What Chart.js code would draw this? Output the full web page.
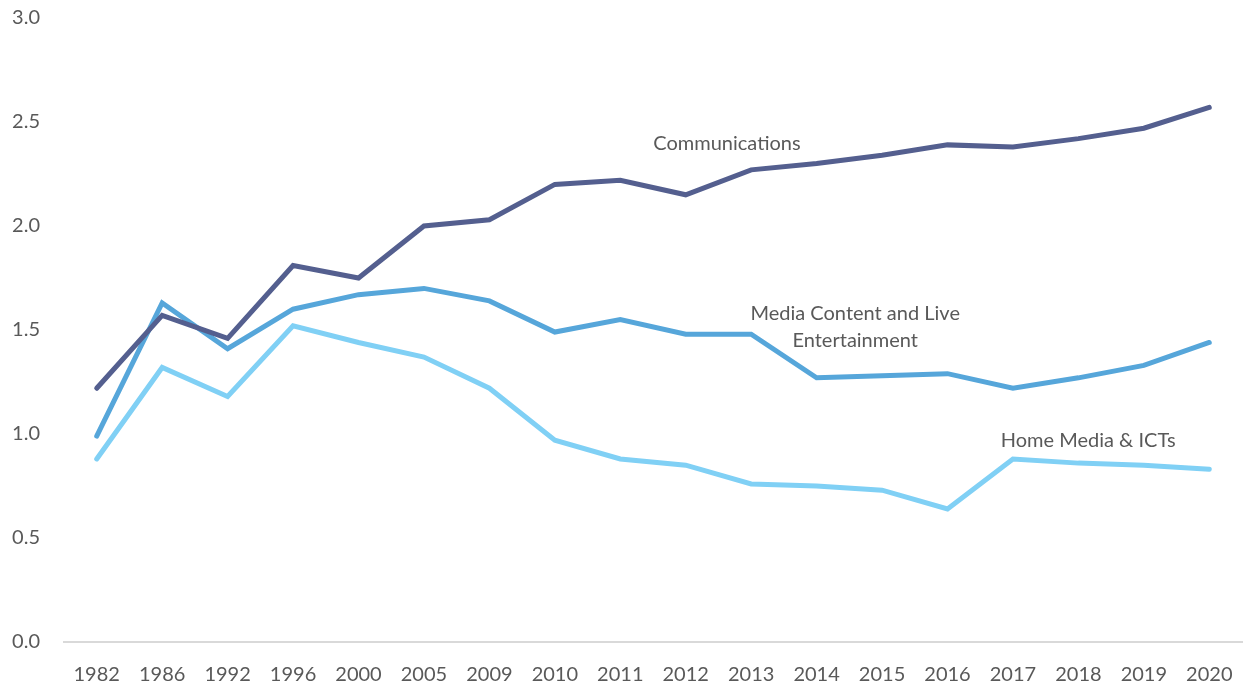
<!DOCTYPE html>
<html>
<head>
<meta charset="utf-8">
<script src="https://cdn.jsdelivr.net/npm/chart.js@4"></script>
<style>
  html, body { margin: 0; padding: 0; background: #fff; }
  #wrap { width: 1246px; height: 685px; }
</style>
</head>
<body>
<div id="wrap"><canvas id="chart"></canvas></div>
<script>
// Data

const years = ["1982", "1986", "1992", "1996", "2000", "2005", "2009", "2010", "2011",
  "2012", "2013", "2014", "2015", "2016", "2017", "2018", "2019", "2020"];

const communications = [1.22, 1.57, 1.46, 1.81, 1.75, 2.0, 2.03, 2.2, 2.22,
  2.15, 2.27, 2.3, 2.34, 2.39, 2.38, 2.42, 2.47, 2.57];

const mediaContent = [0.99, 1.63, 1.41, 1.6, 1.67, 1.7, 1.64, 1.49, 1.55,
  1.48, 1.48, 1.27, 1.28, 1.29, 1.22, 1.27, 1.33, 1.44];

const homeMedia = [0.88, 1.32, 1.18, 1.52, 1.44, 1.37, 1.22, 0.97, 0.88,
  0.85, 0.76, 0.75, 0.73, 0.64, 0.88, 0.86, 0.85, 0.83];

// line labels: [text lines, category position, value]
const lineLabels = [
  { text: ["Communications"], x: 9.63, y: 2.395 },
  { text: ["Media Content and Live", "Entertainment"], x: 11.59, y: 1.58 },
  { text: ["Home Media & ICTs"], x: 15.15, y: 0.97 },
];

const fontFamily = "'Source Sans Pro', Lato, 'Noto Sans', sans-serif";

const labelPlugin = {
  id: "lineLabels",
  afterDatasetsDraw(chart) {
    const ctx = chart.ctx;
    const xs = chart.scales.x;
    const ys = chart.scales.y;
    ctx.save();
    ctx.font = "20px " + fontFamily;
    ctx.fillStyle = "#595959";
    ctx.textAlign = "center";
    ctx.textBaseline = "middle";
    lineLabels.forEach(function (l) {
      const px = xs.getPixelForValue(l.x);
      const py = ys.getPixelForValue(l.y);
      l.text.forEach(function (t, i) {
        ctx.fillText(t, px, py + i * 27);
      });
    });
    ctx.restore();
  },
};

const ctx = document.getElementById("chart").getContext("2d");
const chart = new Chart(ctx, {
  type: "line",
  data: {
    labels: years,
    datasets: [
      {
        label: "Communications",
        data: communications,
        borderColor: "#545f8f",
        borderWidth: 5,
        pointRadius: 0,
        borderCapStyle: "round",
        tension: 0,
      },
      {
        label: "Media Content and Live Entertainment",
        data: mediaContent,
        borderColor: "#56a6da",
        borderWidth: 5,
        pointRadius: 0,
        borderCapStyle: "round",
        tension: 0,
      },
      {
        label: "Home Media & ICTs",
        data: homeMedia,
        borderColor: "#80d0f5",
        borderWidth: 5,
        pointRadius: 0,
        borderCapStyle: "round",
        tension: 0,
      },
    ],
  },
  options: {
    responsive: true,
    maintainAspectRatio: false,
    animation: false,
    layout: {
      padding: { top: 18, right: 4, left: 0, bottom: 0 },
    },
    plugins: {
      legend: { display: false },
      tooltip: { enabled: false },
    },
    scales: {
      y: {
        min: 0,
        max: 3,
        afterFit: function (scale) {
          scale.width = 64;
          scale.paddingTop = 0;
          scale.paddingBottom = 0;
        },
        ticks: {
          stepSize: 0.5,
          color: "#595959",
          padding: 24,
          font: { size: 20, family: fontFamily },
          callback: function (value) {
            return value.toFixed(1);
          },
        },
        grid: { display: false, drawTicks: false },
        border: { display: false },
      },
      x: {
        offset: true,
        afterFit: function (scale) {
          scale.height = 43;
          scale.paddingLeft = 0;
          scale.paddingRight = 0;
        },
        ticks: {
          color: "#595959",
          padding: 21,
          maxRotation: 0,
          autoSkip: false,
          font: { size: 20, family: fontFamily },
        },
        grid: { display: false, drawTicks: false },
        border: { display: true, color: "#d9d9d9", width: 2 },
      },
    },
  },
  plugins: [labelPlugin],
});
</script>
</body>
</html>
